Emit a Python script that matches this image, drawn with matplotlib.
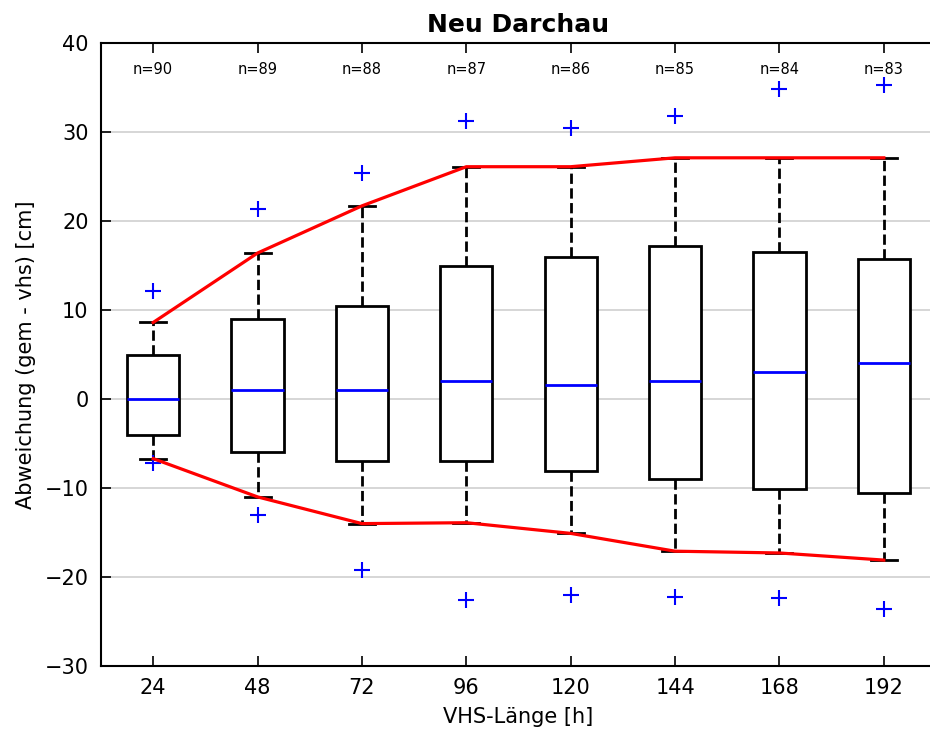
import matplotlib
matplotlib.use("Agg")
import matplotlib.pyplot as plt

labels = ["24", "48", "72", "96", "120", "144", "168", "192"]
n_counts = [90, 89, 88, 87, 86, 85, 84, 83]
medians = [0.0, 1.0, 1.0, 2.0, 1.6, 2.0, 3.0, 4.0]
q1 = [-4.0, -5.9, -7.0, -7.0, -8.05, -9.0, -10.1, -10.6]
q3 = [4.9, 9.0, 10.5, 15.0, 16.0, 17.2, 16.5, 15.7]
whis_lo = [-6.7, -11.0, -14.0, -13.9, -15.1, -17.1, -17.3, -18.1]
whis_hi = [8.6, 16.4, 21.7, 26.1, 26.1, 27.1, 27.1, 27.1]
flier_hi = [12.1, 21.3, 25.4, 31.2, 30.5, 31.8, 34.8, 35.3]
flier_lo = [-7.2, -13.0, -19.2, -22.6, -22.0, -22.2, -22.4, -23.6]

positions = list(range(1, len(labels) + 1))

stats = []
for i in range(len(labels)):
    stats.append(dict(med=medians[i], q1=q1[i], q3=q3[i],
                      whislo=whis_lo[i], whishi=whis_hi[i],
                      fliers=[flier_lo[i], flier_hi[i]], label=labels[i]))

fig = plt.figure(figsize=(9.30, 7.31), dpi=100)
ax = fig.add_axes([101 / 930, 1 - 666 / 731, 835 / 930, 623 / 731])

ax.yaxis.grid(True, color="#d0d0d0", linewidth=1.2, zorder=0)
ax.set_axisbelow(True)

ax.bxp(stats, positions=positions, widths=0.5, patch_artist=True,
       boxprops=dict(facecolor="white", edgecolor="black", linewidth=2.0),
       medianprops=dict(color="blue", linewidth=2.0),
       whiskerprops=dict(color="black", linewidth=2.0, linestyle="--"),
       capprops=dict(color="black", linewidth=2.0),
       flierprops=dict(marker="+", markeredgecolor="blue", markersize=11,
                       markeredgewidth=1.5, linestyle="none"),
       zorder=3)

ax.plot(positions, whis_hi, color="red", linewidth=2.3, zorder=5)
ax.plot(positions, whis_lo, color="red", linewidth=2.3, zorder=5)

for p, n in zip(positions, n_counts):
    ax.text(p, 37, f"n={n}", ha="center", va="center", fontsize=10.5, zorder=6)

ax.set_xlim(0.5, 8.5)
ax.set_ylim(-30, 40)
ax.set_yticks(range(-30, 41, 10))
ax.set_xticks(positions)
ax.set_xticklabels(labels)

ax.tick_params(axis="both", direction="in", length=7, width=1.2, labelsize=15,
               top=True, right=False)
ax.tick_params(axis="x", pad=9)
ax.tick_params(axis="y", pad=9)
for s in ax.spines.values():
    s.set_linewidth(1.5)
ax.spines["right"].set_visible(False)

ax.set_xlabel("VHS-Länge [h]", fontsize=15, labelpad=6)
ax.set_ylabel("Abweichung (gem - vhs) [cm]", fontsize=15, labelpad=6)
ax.set_title("Neu Darchau", fontsize=18, fontweight="bold", pad=8)

fig.savefig("out.png", dpi=100)
